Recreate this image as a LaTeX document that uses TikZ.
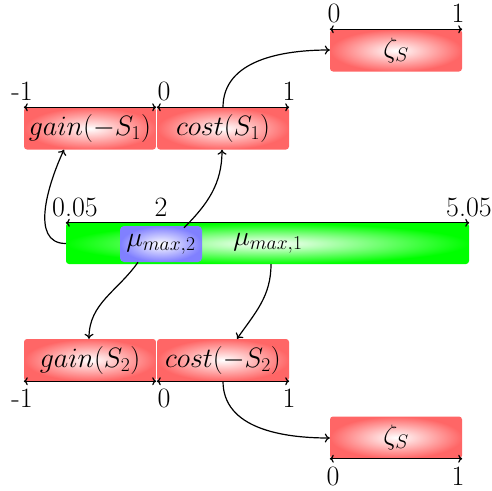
\documentclass[tikz,border=0pt]{standalone}
\usepackage{fix-cm}
\usetikzlibrary{arrows.meta}
\begin{document}
\begin{tikzpicture}[x=1pt,y=-1pt,
  every node/.style={font=\fontsize{28}{33}\selectfont},
  redbox/.style={rectangle,rounded corners=3pt,inner sep=0pt,minimum width=132pt,minimum height=42pt,inner color=white,outer color=red!60},
  greenbox/.style={rectangle,rounded corners=3pt,inner sep=0pt,minimum width=403pt,minimum height=41pt,inner color=white,outer color=green},
  bluebox/.style={rectangle,rounded corners=4pt,inner sep=0pt,minimum width=82pt,minimum height=36pt,inner color=white,outer color=blue!50},
  rng/.style={line width=1.2pt,{To[length=4pt,width=8pt]}-{To[length=4pt,width=8pt]}},
  conn/.style={line width=1.2pt,-{To[length=5pt,width=9pt]}},
  lab/.style={anchor=base,inner sep=0pt}]
\useasboundingbox (0,0) rectangle (492,490);
\fill[white] (0,0) rectangle (492,490);
% boxes
\node[redbox] (zt) at (396,50.5) {$\zeta_S$};
\node[redbox] (g1) at (90,128.5) {$gain(-S_1)$};
\node[redbox] (c1) at (223,128.5) {$cost(S_1)$};
\node[greenbox] (gr) at (267.5,243.5) {};
\node[bluebox] (bl) at (161,244) {$\mu_{max,2}$};
\node (m1) at (268,243) {$\mu_{max,1}$};
\node[redbox] (g2) at (90,360) {$gain(S_2)$};
\node[redbox] (c2) at (223,360) {$cost(-S_2)$};
\node[redbox] (zb) at (396,437.5) {$\zeta_S$};
% ranges
\draw[rng] (zt.north west) -- (zt.north east);
\draw[rng] (g1.north west) -- (g1.north east);
\draw[rng] (c1.north west) -- (c1.north east);
\draw[rng] (gr.north west) -- (gr.north east);
\draw[rng] (g2.south west) -- (g2.south east);
\draw[rng] (c2.south west) -- (c2.south east);
\draw[rng] (zb.south west) -- (zb.south east);
% labels
\node[lab] (lzt0) at (334,22) {0};
\node[lab] (lzt1) at (458,22) {1};
\node[lab] (lg1a) at (22,100) {-1};
\node[lab] (lg1b) at (164,100) {0};
\node[lab] (lc1b) at (289,100) {1};
\node[lab] (lgr0) at (75,216) {0.05};
\node[lab] (lgr1) at (161,216) {2};
\node[lab] (lgr2) at (469,216) {5.05};
\node[lab] (lg2a) at (22,407) {-1};
\node[lab] (lg2b) at (164,407) {0};
\node[lab] (lc2b) at (289,407) {1};
\node[lab] (lzb0) at (333,485) {0};
\node[lab] (lzb1) at (458,485) {1};
% connectors
\draw[conn] (gr.west) to[out=180,in=-115] ([xshift=-26pt]g1.south);
\draw[conn] ([xshift=23pt,yshift=-2pt]bl.north) to[out=45,in=-90] ([xshift=-1pt]c1.south);
\draw[conn] (c1.north) to[out=90,in=180] ([yshift=0.5pt]zt.west);
\draw[conn] ([xshift=-23pt]bl.south) to[out=-125,in=90] (g2.north -| 89,0);
\draw[conn] ([xshift=3.5pt]gr.south) to[out=-90,in=55] (c2.north -| 237,0);
\draw[conn] (c2.south) to[out=-90,in=180] ([yshift=-0.5pt]zb.west);
\end{tikzpicture}
\end{document}
